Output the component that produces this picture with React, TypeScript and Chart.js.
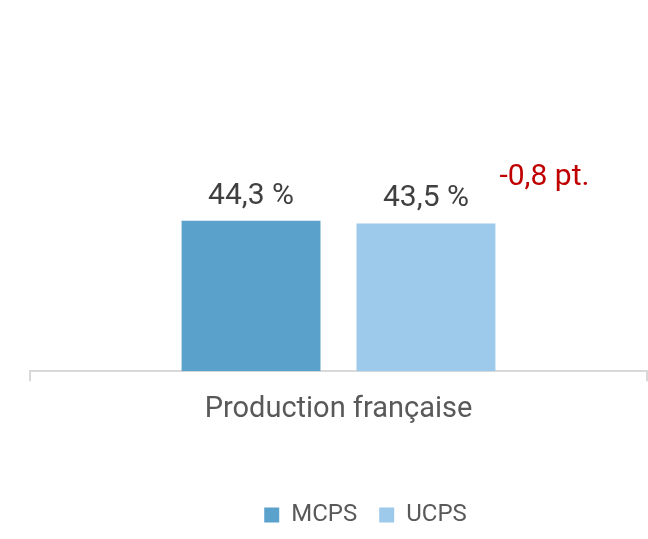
import React, { useEffect, useRef } from "react";
import { Chart, registerables } from "chart.js";

Chart.register(...registerables);

const categories = ["Production française"];
const seriesNames = ["MCPS", "UCPS"];
const mcpsValues = [44.3];
const ucpsValues = [43.5];
const seriesColors = ["#5AA1CC", "#9DC9EB"];

const fmtPct = (v: number) => v.toFixed(1).replace(".", ",") + " %";
const fmtDelta = (v: number) => v.toFixed(1).replace(".", ",") + " pt.";

const FONT = "Roboto";

const labelsPlugin = {
  id: "valueLabels",
  afterDatasetsDraw(chart: any) {
    const ctx = chart.ctx;
    ctx.save();
    ctx.font = `30px ${FONT}`;
    ctx.fillStyle = "#404040";
    ctx.textAlign = "center";
    ctx.textBaseline = "alphabetic";
    chart.data.datasets.forEach((ds: any, di: number) => {
      const meta = chart.getDatasetMeta(di);
      meta.data.forEach((el: any, i: number) => {
        ctx.fillText(fmtPct(ds.data[i]), el.x, el.y - 17);
      });
    });
    const m1 = chart.getDatasetMeta(1).data[0];
    if (m1) {
      const delta = ucpsValues[0] - mcpsValues[0];
      ctx.fillStyle = "#C00000";
      ctx.fillText(fmtDelta(delta), m1.x + m1.width / 2 + 49, m1.y - 38);
    }
    ctx.restore();
  },
};

const legendShift = {
  id: "legendShift",
  afterLayout(chart: any) {
    const lg = chart.legend;
    if (lg) {
      lg.left += 27;
      lg.right += 27;
    }
  },
};

export default function App() {
  const ref = useRef<HTMLCanvasElement>(null);
  useEffect(() => {
    if (!ref.current) return;
    const chart = new Chart(ref.current, {
      type: "bar",
      data: {
        labels: categories,
        datasets: [
          {
            label: seriesNames[0],
            data: mcpsValues,
            backgroundColor: seriesColors[0],
            barPercentage: 0.794,
            categoryPercentage: 0.567,
          },
          {
            label: seriesNames[1],
            data: ucpsValues,
            backgroundColor: seriesColors[1],
            barPercentage: 0.794,
            categoryPercentage: 0.567,
          },
        ],
      },
      options: {
        animation: false,
        responsive: false,
        events: [],
        layout: { padding: { left: 30, right: 1, top: 31.4, bottom: 2 } },
        scales: {
          x: {
            grid: {
              display: true,
              drawOnChartArea: false,
              offset: true,
              tickLength: 10,
              color: "#D9D9D9",
              lineWidth: 2,
            },
            border: { display: true, color: "#D9D9D9", width: 2 },
            ticks: {
              font: { family: FONT, size: 29 },
              color: "#595959",
              padding: 11,
            },
            afterFit(scale: any) {
              scale.height += 43;
            },
          },
          y: { display: false, min: 0, max: 100 },
        },
        plugins: {
          tooltip: { enabled: false },
          legend: {
            position: "bottom",
            labels: {
              boxWidth: 15,
              boxHeight: 15,
              padding: 22,
              color: "#595959",
              font: { family: FONT, size: 24 },
            },
          },
        },
      },
      plugins: [labelsPlugin, legendShift],
    });
    return () => chart.destroy();
  }, []);
  return (
    <div style={{ position: "absolute", left: 0, top: 0, width: 648, height: 539, background: "#fff" }}>
      <canvas ref={ref} width={648} height={539} style={{ display: "block" }} />
    </div>
  );
}
